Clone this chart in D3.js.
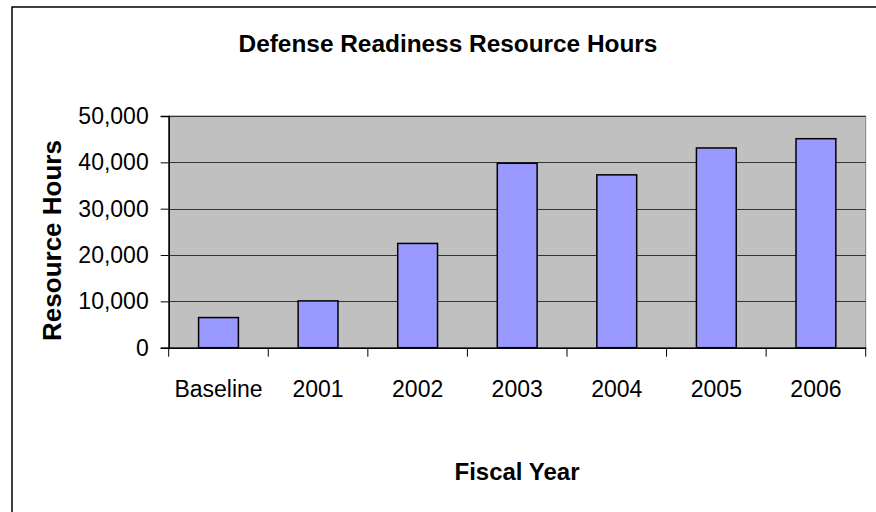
<!DOCTYPE html>
<html>
<head>
<meta charset="utf-8">
<script src="https://cdn.jsdelivr.net/npm/d3@7"></script>
<style>
  body { margin: 0; background: #fff; overflow: hidden; }
  svg { display: block; font-family: Arial, "Liberation Sans", sans-serif; }
</style>
</head>
<body>
<svg id="chart" width="876" height="512"></svg>
<script>
// data
var categories = ['Baseline', '2001', '2002', '2003', '2004', '2005', '2006'];
var hours = [6500, 10100, 22500, 39800, 37300, 43100, 45100];
var yTicks = [0, 10000, 20000, 30000, 40000, 50000];

var left = 168.7, right = 865.7, top_ = 116, bottom = 347.7;

var svg = d3.select('#chart');

// outer chart border (only top and left are inside the picture)
svg.append('path')
	.attr('d', 'M12,512V7H876')
	.attr('fill', 'none')
	.attr('stroke', '#000')
	.attr('stroke-width', 1.5);

var x = d3.scaleBand()
	.domain(categories)
	.range([left, right])
	.paddingInner(0.6)
	.paddingOuter(0.3);

var y = d3.scaleLinear()
	.domain([0, 50000])
	.range([bottom, top_]);

// plot background
svg.append('rect')
	.attr('x', left)
	.attr('y', top_)
	.attr('width', right - left)
	.attr('height', bottom - top_)
	.attr('fill', '#C0C0C0')
	.attr('stroke', '#808080')
	.attr('stroke-width', 1);

// gridlines
svg.append('g')
	.selectAll('line')
	.data(yTicks.filter(d => d > 0))
	.join('line')
		.attr('x1', left)
		.attr('x2', right)
		.attr('y1', d => Math.round(y(d)) + 0.5)
		.attr('y2', d => Math.round(y(d)) + 0.5)
		.attr('stroke', '#333')
		.attr('stroke-width', 1);

// bars
svg.append('g')
	.selectAll('rect')
	.data(hours)
	.join('rect')
		.attr('x', (d, i) => x(categories[i]))
		.attr('y', d => y(d))
		.attr('width', x.bandwidth())
		.attr('height', d => bottom - y(d))
		.attr('fill', '#9999FF')
		.attr('stroke', '#000')
		.attr('stroke-width', 1.5);

// y axis
var yAxis = svg.append('g')
	.attr('transform', `translate(${left}, 0)`)
	.call(d3.axisLeft(y).tickValues(yTicks).tickFormat(d3.format(',')).tickSize(8).tickPadding(12));
yAxis.select('.domain').attr('stroke', '#000').attr('stroke-width', 1.5);
yAxis.selectAll('text').attr('font-size', 23).attr('fill', '#000').attr('font-family', 'Arial, "Liberation Sans", sans-serif');

// x axis: labels from the band scale, ticks at the band edges
var xAxis = svg.append('g')
	.attr('transform', `translate(0, ${bottom})`)
	.call(d3.axisBottom(x).tickSize(0).tickPadding(33));
xAxis.select('.domain').attr('stroke', '#000').attr('stroke-width', 1.5);
xAxis.selectAll('text').attr('font-size', 23).attr('fill', '#000').attr('font-family', 'Arial, "Liberation Sans", sans-serif');

svg.append('g')
	.selectAll('line')
	.data(d3.range(categories.length + 1))
	.join('line')
		.attr('x1', i => left + i * x.step())
		.attr('x2', i => left + i * x.step())
		.attr('y1', bottom)
		.attr('y2', bottom + 9)
		.attr('stroke', '#000')
		.attr('stroke-width', 1);

// titles
svg.append('text')
	.attr('x', 448)
	.attr('y', 51.5)
	.attr('text-anchor', 'middle')
	.attr('font-size', 24.4)
	.attr('font-weight', 'bold')
	.text('Defense Readiness Resource Hours');

svg.append('text')
	.attr('x', 517)
	.attr('y', 480)
	.attr('text-anchor', 'middle')
	.attr('font-size', 24)
	.attr('font-weight', 'bold')
	.text('Fiscal Year');

svg.append('text')
	.attr('transform', 'translate(61, 240.5) rotate(-90)')
	.attr('text-anchor', 'middle')
	.attr('font-size', 26)
	.attr('font-weight', 'bold')
	.text('Resource Hours');
</script>
</body>
</html>
